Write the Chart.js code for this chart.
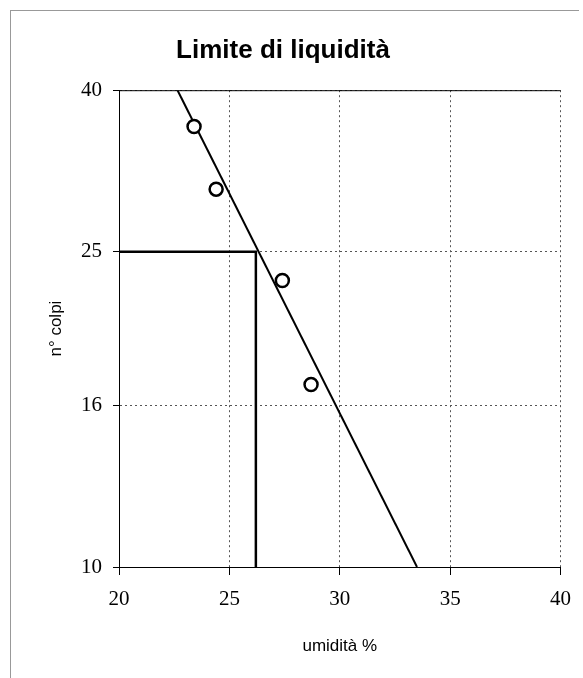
<!DOCTYPE html>
<html>
<head>
<meta charset="utf-8">
<script src="https://cdn.jsdelivr.net/npm/chart.js@4"></script>
<style>
  html, body { margin: 0; padding: 0; background: #fff; }
  #wrap { position: relative; width: 583px; height: 678px; overflow: hidden; }
  #cornice { position: absolute; left: 10px; top: 10px; width: 568px; height: 700px;
             border-left: 1px solid #999; border-top: 1px solid #999; }
  canvas { position: absolute; left: 0; top: 0; }
</style>
</head>
<body>
<div id="wrap">
  <div id="cornice"></div>
  <canvas id="graficoLL" width="583" height="678"></canvas>
</div>
<script>
// punti sperimentali (umidità %, n° colpi)
const umidita = [23.4, 24.4, 27.4, 28.7];
const colpi = [36, 30, 23, 17];

// retta interpolante (estremi)
const rettaUmidita = [22.65, 33.5];
const rettaColpi = [40, 10];

// limite di liquidità a 25 colpi
const limiteLiquido = 26.2;
const colpiRiferimento = 25;

const tickUmidita = [20, 25, 30, 35, 40];
const tickColpi = [10, 16, 25, 40];

const puntiProva = umidita.map((u, i) => ({ x: u, y: colpi[i] }));
const puntiRetta = rettaUmidita.map((u, i) => ({ x: u, y: rettaColpi[i] }));
const puntiLimite = [
  { x: tickUmidita[0], y: colpiRiferimento },
  { x: limiteLiquido, y: colpiRiferimento },
  { x: limiteLiquido, y: tickColpi[0] }
];

// bordo superiore continuo dell'area del grafico
const bordoSuperiore = {
  id: 'bordoSuperiore',
  afterDatasetsDraw(chart) {
    const { ctx, chartArea } = chart;
    ctx.save();
    ctx.strokeStyle = '#000';
    ctx.lineWidth = 1;
    ctx.beginPath();
    ctx.moveTo(chartArea.left, chartArea.top + 0.5);
    ctx.lineTo(chartArea.right, chartArea.top + 0.5);
    ctx.stroke();
    ctx.restore();
  }
};

const fontTick = { family: "'Liberation Serif', 'Times New Roman', serif", size: 21 };
const fontTitolo = { family: "'Liberation Sans', Arial, sans-serif", size: 17 };

new Chart(document.getElementById('graficoLL').getContext('2d'), {
  type: 'scatter',
  data: {
    datasets: [
      {
        label: 'prove',
        data: puntiProva,
        pointStyle: 'circle',
        pointRadius: 6.5,
        pointBorderWidth: 2.5,
        pointBackgroundColor: '#fff',
        pointBorderColor: '#000',
        showLine: false
      },
      {
        label: 'retta',
        data: puntiRetta,
        showLine: true,
        borderColor: '#000',
        borderWidth: 2,
        pointRadius: 0
      },
      {
        label: 'limite',
        data: puntiLimite,
        showLine: true,
        borderColor: '#000',
        borderWidth: 2.5,
        pointRadius: 0
      }
    ]
  },
  options: {
    responsive: false,
    animation: false,
    layout: { padding: { left: 0, right: 17, top: 35, bottom: 17 } },
    plugins: {
      legend: { display: false },
      tooltip: { enabled: false },
      title: {
        display: true,
        text: 'Limite di liquidità',
        color: '#000',
        font: { family: "'Liberation Sans', Arial, sans-serif", size: 26, weight: 'bold' },
        padding: { top: 0, bottom: 24 }
      }
    },
    scales: {
      x: {
        type: 'linear',
        min: tickUmidita[0],
        max: tickUmidita[tickUmidita.length - 1],
        afterBuildTicks: s => { s.ticks = tickUmidita.map(v => ({ value: v })); },
        afterFit: s => { s.height = 94; },
        ticks: { color: '#000', font: fontTick, padding: 12, maxRotation: 0 },
        grid: {
          color: '#555',
          tickLength: 8,
          tickColor: '#000',
          tickBorderDash: []
        },
        border: { display: true, color: '#000', width: 1, dash: [2, 3] },
        title: { display: true, text: 'umidità %', color: '#000', font: fontTitolo, padding: { top: 0, bottom: 4 } }
      },
      y: {
        type: 'logarithmic',
        min: tickColpi[0],
        max: tickColpi[tickColpi.length - 1],
        afterBuildTicks: s => { s.ticks = tickColpi.map(v => ({ value: v })); },
        afterFit: s => { s.width = 119; },
        ticks: { color: '#000', font: fontTick, padding: 11, callback: v => String(v) },
        grid: {
          color: '#555',
          tickLength: 6,
          tickColor: '#000',
          tickBorderDash: []
        },
        border: { display: true, color: '#000', width: 1, dash: [2, 3] },
        title: { display: true, text: 'n° colpi', color: '#000', font: fontTitolo, padding: { top: 46, bottom: 0 } }
      }
    }
  },
  plugins: [bordoSuperiore]
});
</script>
</body>
</html>
